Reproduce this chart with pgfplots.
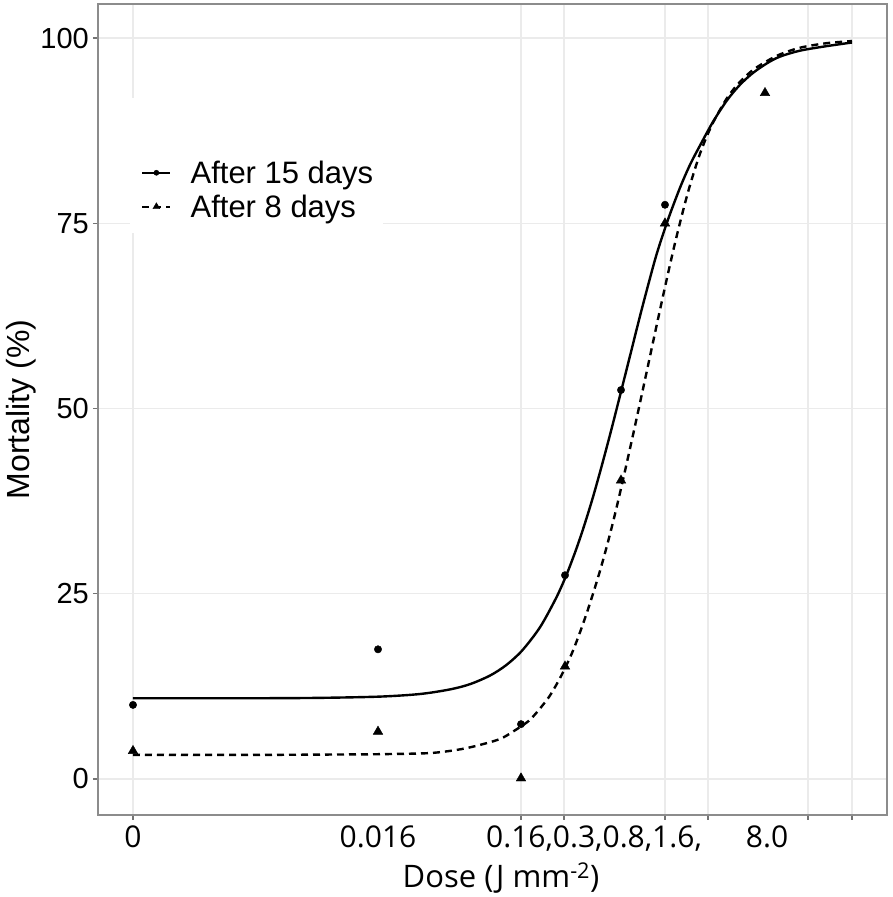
\documentclass[border=0pt]{standalone}
\usepackage{fontspec}
\setmainfont{Liberation Sans}
\newfontfamily\osans{Open Sans}
\usepackage{pgfplots}
\pgfplotsset{compat=1.18}
\begin{document}
\begin{tikzpicture}
\begin{axis}[name=ax, at={(0,0)}, anchor=south west,
  scale only axis, width=789pt, height=811pt,
  xmin=98, xmax=887, ymin=-4.86, ymax=104.6,
  axis line style={draw=black!45, line width=1.3pt},
  xtick={133,521,564,665,708,808,852}, xticklabels={},
  ytick={0,25,50,75,100},
  xtick pos=bottom, ytick pos=left, tick align=outside,
  major tick length=5pt,
  tick style={black!55, line width=1.2pt},
  grid=major, major grid style={black!8, line width=1.4pt},
  /pgf/number format/assume math mode=true,
  yticklabel style={font=\fontsize{29}{34}\selectfont, inner xsep=4pt},
  extra x ticks={133,378,594,767},
  extra x tick labels={0,0.016,{0.16,0.3,0.8,1.6,},8.0},
  extra x tick style={major tick length=0pt, grid=none,
     xticklabel style={font=\osans\fontsize{30}{36}\selectfont, yshift=-7pt}},
  xlabel={Dose (J mm\textsuperscript{-2})},
  xlabel style={font=\osans\fontsize{31}{37}\selectfont, at={(axis description cs:0.5108,0)}, anchor=north, yshift=-44pt},
  ylabel={Mortality (\%)},
  ylabel style={font=\fontsize{32}{38}\selectfont, at={(axis description cs:-0.0735,0.5)}, anchor=south},
  legend style={at={(axis cs:141,83.6)}, anchor=north west, draw=none, fill=none,
     inner sep=0pt, font=\fontsize{31}{36}\selectfont, row sep=8pt,
     nodes={inner sep=1pt},
     /tikz/every odd column/.append style={column sep=18pt}},
  legend cell align=left,
  legend image code/.code={\draw[mark repeat=2,mark phase=2,#1] plot coordinates {(0pt,0pt) (14pt,0pt) (28pt,0pt)};},
]
\fill[white] (axis cs:130,91.9) rectangle (axis cs:383,73.7);

\addlegendimage{black, solid, line width=2.4pt, mark=*, mark size=2.6pt, mark options={solid, line width=0.4pt}}
\addlegendentry{After 15 days}
\addlegendimage{black, dash pattern=on 7pt off 5pt, line width=2.4pt, mark=triangle*, mark size=4pt, mark options={solid, line width=0.4pt}}
\addlegendentry{After 8 days}

% fitted curve, 15 days
\addplot[black, line width=2.4pt, smooth, forget plot] coordinates {
(133,10.9) (200,10.9) (260,10.9) (320,10.95) (380,11.12) (420,11.47) (450,12.09)
(470,12.8) (490,13.96) (506,15.35) (522,17.32) (540,20.48) (556,24.4) (566,27.4)
(575,30.56) (583,33.7) (592,37.6) (601,41.9) (611,46.97) (621,52.28) (630,57.1)
(640,62.48) (649,67.1) (657,71.0) (668,75.5) (680,79.8) (690,82.9) (700,85.5)
(713,88.7) (727,91.6) (740,93.7) (753,95.3) (767,96.6) (780,97.5) (800,98.3)
(826,98.9) (852,99.4)};

% fitted curve, 8 days
\addplot[black, line width=2.4pt, dash pattern=on 7pt off 5pt, smooth, forget plot] coordinates {
(133,3.25) (250,3.25) (330,3.3) (380,3.35) (430,3.5) (460,4.0) (480,4.6)
(500,5.4) (513,6.4) (530,8.0) (547,10.7) (555,12.4) (563,14.4) (572,17.0)
(580,19.8) (587,22.5) (593,25.0) (600,28.1) (607,31.5) (614,35.2) (621,39.2)
(630,44.6) (637,48.9) (645,53.9) (655,60.2) (665,66.4) (676,72.9) (688,79.2)
(700,84.4) (712,88.3) (727,91.9) (740,94.1) (753,95.7) (767,96.9) (780,97.8)
(800,98.7) (826,99.3) (852,99.6)};

% observations, 15 days
\addplot[only marks, mark=*, mark size=3.7pt, black, forget plot] coordinates {
(133,10.0) (378,17.5) (521,7.4) (565,27.5) (621,52.5) (665,77.5)};

% observations, 8 days
\addplot[only marks, mark=triangle*, mark size=5.5pt, black, forget plot] coordinates {
(133,3.8) (378,6.4) (521,0.1) (565,15.2) (621,40.3) (665,75.0) (765,92.6)};
\end{axis}
\pgfresetboundingbox
\path[use as bounding box] ([xshift=-98pt,yshift=-82pt]ax.south west) rectangle ([xshift=5pt,yshift=4pt]ax.north east);
\end{tikzpicture}
\end{document}
